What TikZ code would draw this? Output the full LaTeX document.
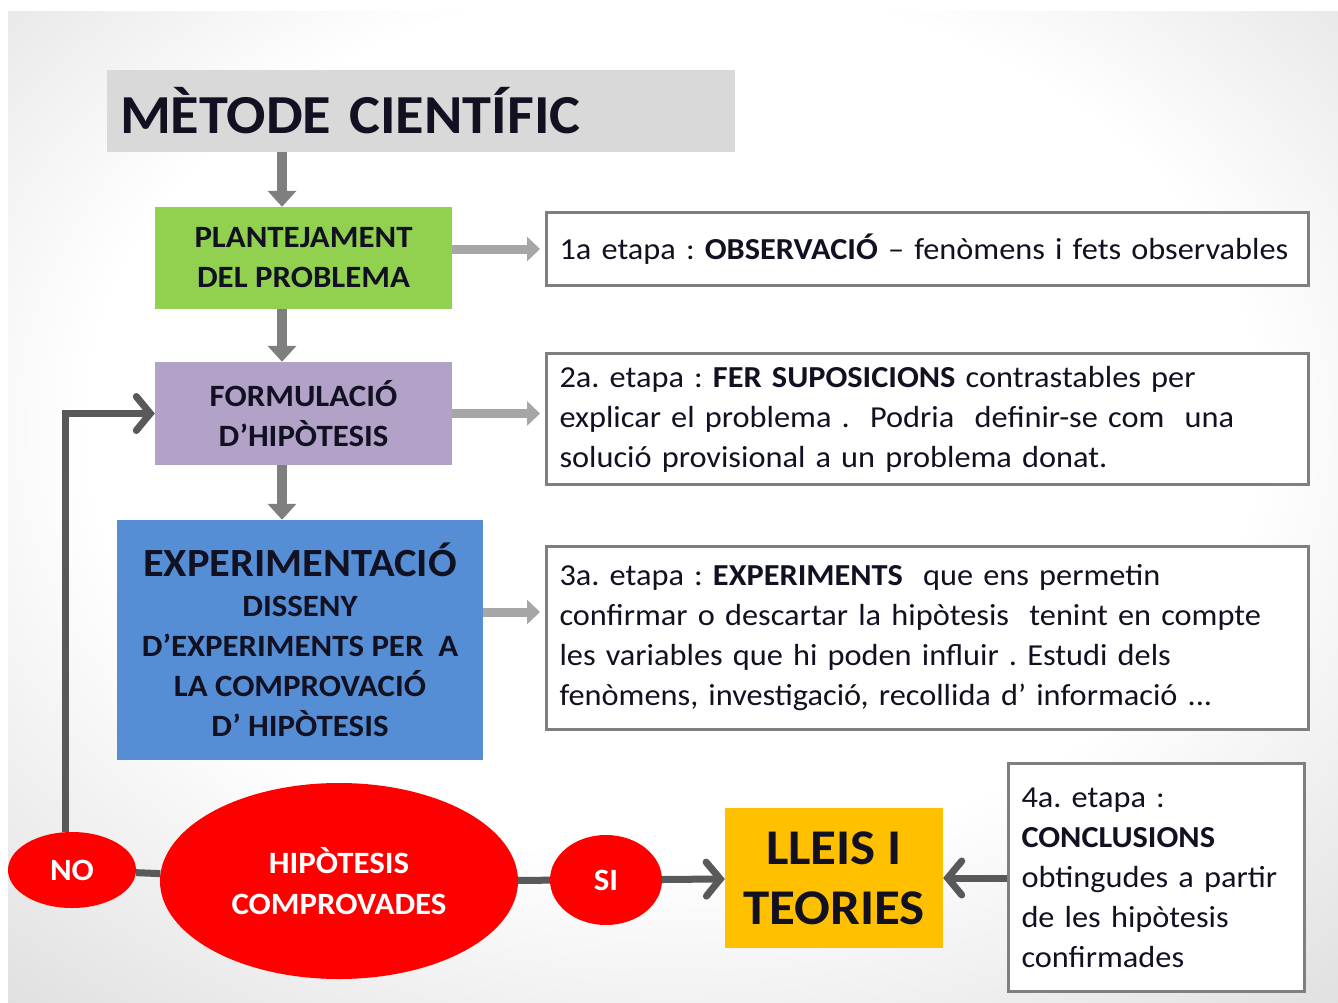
\documentclass[tikz,border=0pt]{standalone}
\usepackage{fontspec}
\setmainfont{Carlito}[FakeStretch=1.06]
\usetikzlibrary{arrows.meta,shapes.geometric}
\definecolor{titlegray}{HTML}{D9D9D9}
\definecolor{stepgreen}{HTML}{92D050}
\definecolor{steppurple}{HTML}{B3A2C7}
\definecolor{stepblue}{HTML}{558ED5}
\definecolor{lawyellow}{HTML}{FFC000}
\definecolor{txtdark}{HTML}{111122}
\definecolor{downgray}{HTML}{7F7F7F}
\definecolor{sidegray}{HTML}{A6A6A6}
\definecolor{loopgray}{HTML}{595959}
\pgfdeclareradialshading{vignette}{\pgfpoint{0bp}{6bp}}{color(0bp)=(white); color(22bp)=(white); color(40bp)=(black!14); color(50bp)=(black!36); color(60bp)=(black!52); color(75bp)=(black!62)}
\frenchspacing

\begin{document}
\begin{tikzpicture}[x=1pt,y=-1pt,
    stepbox/.style={minimum width=297pt, minimum height=102pt, inner sep=0pt, align=center, text=txtdark, font=\fontsize{31}{40}\selectfont\bfseries},
    etapa/.style={draw=downgray, line width=3pt, fill=white, anchor=north west, inner xsep=13pt, inner ysep=0pt, align=left, text=txtdark, font=\fontsize{30.5}{40}\selectfont},
    decision/.style={ellipse, fill=red, inner sep=0pt, text=white, align=center, font=\fontsize{31}{41}\selectfont\bfseries},
    downarrow/.style={draw=downgray, line width=10pt, -{Triangle[length=16pt, width=28pt]}},
    sidearrow/.style={draw=sidegray, line width=9pt, shorten >=5pt, -{Triangle[length=13pt, width=24pt]}},
    loopline/.style={draw=loopgray, line width=7pt},
    looparrow/.style={loopline, -{Straight Barb[length=14pt, width=34pt, line cap=round]}}]

    % background with vignette
    \fill[white] (0,0) rectangle (1338,1003);
    \shade[shading=vignette] (8,12) rectangle (1338,1003);
    \useasboundingbox (0,0) rectangle (1338,1003);

    % left column
    \node[fill=titlegray, minimum width=628pt, minimum height=82pt, text width=602pt, inner xsep=13pt, align=left, text=txtdark, font=\fontsize{55}{60}\selectfont\bfseries] (title) at (421,111) {MÈTODE CIENTÍFIC};
    \node[stepbox, fill=stepgreen] (plant) at (303.5,258) {PLANTEJAMENT\\DEL PROBLEMA};
    \node[stepbox, fill=steppurple, minimum height=103pt] (form) at (303.5,413.5) {FORMULACIÓ\\D’HIPÒTESIS};
    \node[stepbox, fill=stepblue, minimum width=366pt, minimum height=240pt] (expe) at (300,640) {{\fontsize{40}{44}\selectfont EXPERIMENTACIÓ}\\DISSENY\\D’EXPERIMENTS PER\ \ A\\LA COMPROVACIÓ\\D’ HIPÒTESIS};
    \coordinate (col) at (282,0);

    % right column
    \node[etapa, text width=736pt, minimum height=73pt] (obs) at (545,211) {1a etapa : \textbf{OBSERVACIÓ} – fenòmens i fets \mbox{observables}};
    \node[etapa, text width=736pt, minimum height=131pt] (supo) at (545,352) {2a. etapa : \textbf{FER SUPOSICIONS} contrastables per\\explicar el problema .\ \ Podria\ \ definir-se com\ \ una\\solució provisional a un problema donat.};
    \node[etapa, text width=736pt, minimum height=183pt] (exps) at (545,545) {3a. etapa : \textbf{EXPERIMENTS}\ \ que ens permetin\\confirmar o descartar la hipòtesis\ \ tenint en compte\\les variables que hi poden influir . Estudi dels\\fenòmens, investigació, recollida d’ informació ...};
    \node[etapa, text width=270pt, minimum height=228pt] (concl) at (1007,762) {4a. etapa :\\\textbf{CONCLUSIONS}\\obtingudes a partir\\de les hipòtesis\\confirmades};

    % bottom row
    \node[decision, minimum width=128pt, minimum height=76pt] (no) at (72,870) {NO};
    \node[decision, minimum width=358pt, minimum height=196pt] (hyp) at (339,881) {HIPÒTESIS\\COMPROVADES};
    \node[decision, minimum width=112pt, minimum height=90pt] (si) at (606,880) {SI};
    \node[fill=lawyellow, minimum width=218pt, minimum height=140pt, inner sep=0pt, align=center, text=txtdark, font=\fontsize{50}{60}\selectfont\bfseries] (lleis) at (834,878) {LLEIS I\\TEORIES};

    \draw[downarrow] (title.south -| col) -- (plant.north -| col);
    \draw[downarrow] (plant.south -| col) -- (form.north -| col);
    \draw[downarrow] (form.south -| col) -- (expe.north -| col);

    \draw[sidearrow] (plant.east |- obs.west) -- (obs.west);
    \draw[sidearrow] (form.east) -- (form.east -| supo.west);
    \draw[sidearrow] ([yshift=28pt]expe.east) -- ([yshift=28pt]expe.east -| exps.west);

    \draw[looparrow] ([xshift=-7pt]no.north) -- ([xshift=-7pt]no.north |- form.west) -- (form.west);
    \draw[loopline] (no) -- (hyp);
    \draw[loopline] (hyp) -- (si);
    \draw[looparrow] (si) -- (lleis);
    \draw[looparrow] (concl.west |- lleis.east) -- (lleis.east);
\end{tikzpicture}
\end{document}
